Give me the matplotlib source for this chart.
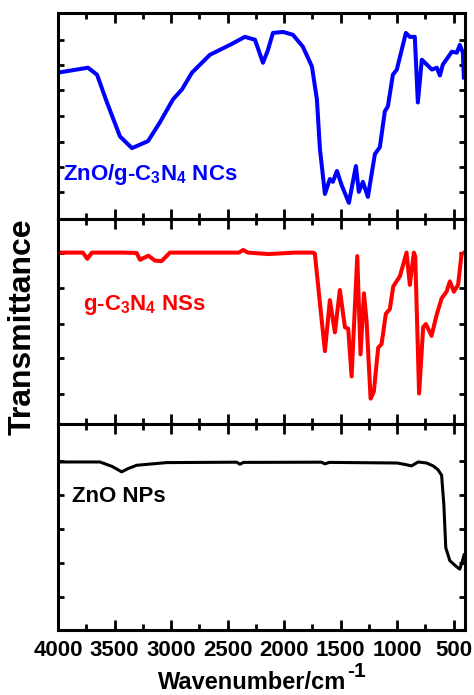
import numpy as np
import matplotlib
matplotlib.use('Agg')
import matplotlib.pyplot as plt
from matplotlib.ticker import MultipleLocator, FixedLocator

plt.rcParams['font.family'] = ['Liberation Sans', 'DejaVu Sans']
plt.rcParams['font.weight'] = 'bold'
plt.rcParams['mathtext.fontset'] = 'custom'
plt.rcParams['mathtext.rm'] = 'Liberation Sans:bold'
plt.rcParams['mathtext.it'] = 'Liberation Sans:bold'
plt.rcParams['mathtext.bf'] = 'Liberation Sans:bold'

# FTIR spectra, transmittance in % of panel height
wn_nc = [4000, 3735, 3655, 3567, 3452, 3346, 3204, 3098, 2983, 2904, 2815, 2656,
         2479, 2347, 2258, 2187, 2143, 2099, 2010, 1922, 1834, 1754, 1710, 1683,
         1639, 1595, 1569, 1533, 1489, 1427, 1365, 1339, 1303, 1259, 1197, 1153,
         1109, 1082, 1038, 1003, 923, 888, 844, 817, 782, 693, 649, 622, 596,
         516, 472, 446, 419, 410]
t_nc = [71, 73.4, 70, 56.5, 40, 34.3, 37.7, 46.9, 58, 62.8, 71, 79.7,
        84.5, 88.4, 87, 75.8, 82, 90.3, 90.8, 89.4, 83.6, 74, 58, 33.8,
        12, 19.3, 17.9, 23.2, 16, 7.7, 25.6, 13, 17.9, 10.6, 31.4, 34.8,
        52.2, 54.6, 70, 72.5, 90.3, 88.4, 88.4, 56.5, 77.3, 72.5, 73.4, 69.6, 74.9,
        81.2, 80.7, 84.5, 80.7, 68.6]

wn_gcn = [4000, 3780, 3741, 3700, 3420, 3304, 3275, 3201, 3142, 3083, 3010, 2600,
          2400, 2362, 2320, 2140, 1900, 1745, 1728, 1683, 1639, 1595, 1551, 1507,
          1462, 1433, 1403, 1353, 1324, 1294, 1271, 1235, 1206, 1168, 1138, 1100,
          1065, 1035, 976, 917, 888, 852, 840, 806, 770, 746, 696, 652, 607,
          563, 534, 498, 461, 431, 408]
t_gcn = [83.5, 83.5, 80.5, 83.5, 83.5, 83.3, 80.0, 82.0, 79.6, 79.4, 83.5, 83.5,
         83.5, 84.8, 83.5, 82.8, 83.5, 83.5, 83.0, 58.7, 35.6, 60.4, 44.7, 65.3,
         47.2, 46.5, 23.3, 81.8, 34, 63.7, 50.5, 12.5, 16, 37.3, 39, 53.8,
         56, 67, 72, 83.5, 67.8, 83.5, 81.5, 15, 47.2, 48.8, 43, 53, 61.2,
         64.5, 69.5, 64.5, 67.8, 82.7, 83.5]

wn_zno = [4000, 3629, 3520, 3437, 3380, 3304, 3039, 2420, 2391, 2360, 1670, 1639,
          1600, 1000, 930, 873, 814, 740, 682, 640, 607, 587, 570, 534,
          475, 446, 422, 408]
t_zno = [81.7, 81.7, 79.5, 76.9, 78.5, 80.1, 81.4, 81.6, 80.6, 81.5, 81.6, 80.8,
         81.5, 81.2, 80.5, 79.8, 81.7, 81.2, 79.8, 78.0, 75.3, 60.9, 40, 33.7,
         30.8, 29.6, 33.7, 36.5]

panels = [
    (wn_nc, t_nc, '#0000ff', 'ZnO/g-C$_3$N$_4$ NCs', 0.012, 0.215,
     [87, 74.9, 62.8, 49.8, 37.2, 25.1, 13]),
    (wn_gcn, t_gcn, '#ff0000', 'g-C$_3$N$_4$ NSs', 0.061, 0.58,
     [83.5, 66.3, 49, 32.2, 14.9]),
    (wn_zno, t_zno, '#000000', 'ZnO NPs', 0.034, 0.65,
     [82, 65.5, 49, 32.5, 16]),
]

W, H = 474, 695
fig, axes = plt.subplots(3, 1, figsize=(W / 100, H / 100), dpi=100, sharex=True)
fig.subplots_adjust(left=0.1224, right=0.981, top=0.9813, bottom=0.0935, hspace=0)

for ax, (wn, t, color, label, lx, ly, yt) in zip(axes, panels):
    lw = 2.2 if color == '#000000' else 2.9
    ax.plot(wn, t, color=color, lw=lw, solid_joinstyle='round')
    ax.set_ylim(0, 100)
    ax.set_xlim(4000, 400)
    ax.yaxis.set_major_locator(FixedLocator(yt))
    ax.set_yticklabels([])
    ax.xaxis.set_major_locator(MultipleLocator(500))
    ax.xaxis.set_minor_locator(MultipleLocator(250))
    ax.tick_params(which='major', axis='x', direction='in', length=7, width=2,
                   top=True, bottom=True)
    ax.tick_params(which='minor', axis='x', direction='in', length=4, width=2,
                   top=True, bottom=True)
    ax.tick_params(axis='y', direction='in', length=4, width=2, left=True, right=True)
    for spine in ax.spines.values():
        spine.set_linewidth(2.2)
    ax.text(lx, ly, label, transform=ax.transAxes, color=color, fontsize=16,
            fontweight='bold', va='center', ha='left')

axes[-1].tick_params(axis='x', labelsize=16, pad=7)
for lab in axes[-1].get_xticklabels():
    lab.set_fontweight('bold')

fig.text(0.047, 0.53, 'Transmittance', rotation=90, fontsize=23, fontweight='bold',
         ha='center', va='center')

# x label with a full-height superscript, centred under the axes
base_y = 6 / H
main = fig.text(0, base_y, 'Wavenumber/cm', fontsize=17, fontweight='bold',
                ha='left', va='baseline')
sup = fig.text(0, base_y + 12 / H, '-1', fontsize=15, fontweight='bold',
               ha='left', va='baseline')
fig.canvas.draw()
r = fig.canvas.get_renderer()
w_main = main.get_window_extent(r).width / W
w_sup = sup.get_window_extent(r).width / W
ax_box = axes[-1].get_position()
x0 = (ax_box.x0 + ax_box.x1) / 2 - (w_main + w_sup) / 2
main.set_x(x0)
sup.set_x(x0 + w_main + 1 / W)

fig.savefig('out.png', dpi=100, facecolor='white')
